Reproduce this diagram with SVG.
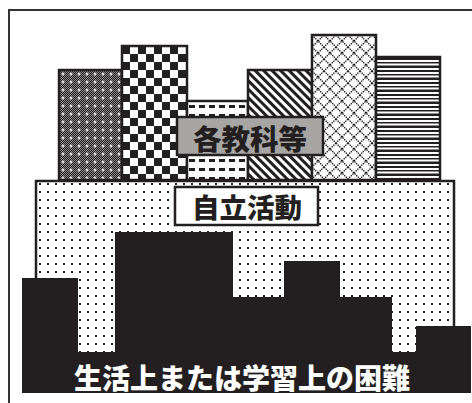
<svg xmlns="http://www.w3.org/2000/svg" width="472" height="403" viewBox="0 0 472 403">
<style>
.bar{stroke:#231f20;stroke-width:2.5}
.lbl{font-family:"Noto Sans CJK JP","Noto Sans",sans-serif;font-weight:900;text-anchor:middle;dominant-baseline:central}
</style>
<defs>
<pattern id="pFine" patternUnits="userSpaceOnUse" x="59" y="70" width="8" height="8">
<rect width="8" height="8" fill="#8a8888"/>
<g fill="#231f20">
<rect x="0" y="0" width="1" height="1"/><rect x="2" y="0" width="1" height="1"/><rect x="4" y="0" width="1" height="1"/><rect x="6" y="0" width="1" height="1"/>
<rect x="1" y="1" width="1" height="1"/><rect x="3" y="1" width="1" height="1"/><rect x="5" y="1" width="1" height="1"/><rect x="7" y="1" width="1" height="1"/>
<rect x="0" y="2" width="1" height="1"/><rect x="2" y="2" width="1" height="1"/><rect x="4" y="2" width="1" height="1"/><rect x="6" y="2" width="1" height="1"/>
<rect x="1" y="3" width="1" height="1"/><rect x="3" y="3" width="1" height="1"/><rect x="5" y="3" width="1" height="1"/><rect x="7" y="3" width="1" height="1"/>
<rect x="0" y="4" width="1" height="1"/><rect x="2" y="4" width="1" height="1"/><rect x="4" y="4" width="1" height="1"/><rect x="6" y="4" width="1" height="1"/>
<rect x="1" y="5" width="1" height="1"/><rect x="3" y="5" width="1" height="1"/><rect x="5" y="5" width="1" height="1"/><rect x="7" y="5" width="1" height="1"/>
<rect x="0" y="6" width="1" height="1"/><rect x="2" y="6" width="1" height="1"/><rect x="4" y="6" width="1" height="1"/><rect x="6" y="6" width="1" height="1"/>
<rect x="1" y="7" width="1" height="1"/><rect x="3" y="7" width="1" height="1"/><rect x="5" y="7" width="1" height="1"/><rect x="7" y="7" width="1" height="1"/>
</g>
<path d="M4,2.5V5.5M2.5,4H5.5" stroke="#fff" stroke-width="1.2"/>
</pattern>
<pattern id="pCheck" patternUnits="userSpaceOnUse" x="122" y="46" width="16" height="16">
<rect width="16" height="16" fill="#fff"/>
<rect x="0" y="0" width="8" height="8" fill="#231f20"/>
<rect x="8" y="8" width="8" height="8" fill="#231f20"/>
</pattern>
<pattern id="pDash" patternUnits="userSpaceOnUse" x="187" y="101" width="10" height="9">
<rect width="10" height="9" fill="#fff"/>
<rect x="2" y="4" width="6" height="3" fill="#231f20"/>
</pattern>
<pattern id="pDiag" patternUnits="userSpaceOnUse" width="6" height="6" patternTransform="rotate(45)">
<rect width="6" height="6" fill="#fff"/>
<rect x="0" y="0" width="6" height="3" fill="#231f20"/>
</pattern>
<pattern id="pLattice" patternUnits="userSpaceOnUse" x="312" y="35" width="12" height="12">
<rect width="12" height="12" fill="#fff"/>
<path d="M0,0L12,12M12,0L0,12" stroke="#231f20" stroke-width="1.3" stroke-dasharray="1.5 0.8"/>
</pattern>
<pattern id="pHoriz" patternUnits="userSpaceOnUse" x="376" y="57" width="8" height="12">
<rect width="8" height="12" fill="#fff"/>
<rect x="0" y="1" width="8" height="2" fill="#231f20"/>
<rect x="0" y="5" width="8" height="1.5" fill="#231f20"/>
<rect x="0" y="8.5" width="8" height="2.5" fill="#231f20"/>
</pattern>
<pattern id="pDots" patternUnits="userSpaceOnUse" x="36" y="180" width="8" height="8">
<rect width="8" height="8" fill="#fff"/>
<rect x="3" y="3" width="2" height="2" fill="#231f20"/>
</pattern>
</defs>
<rect width="472" height="403" fill="#fff"/>
<g id="frame">
<path d="M472,10H9V403" fill="none" stroke="#333" stroke-width="2"/>
</g>
<g id="subjects">
<rect id="bar1" class="bar" x="59" y="70" width="63" height="110" fill="url(#pFine)"/>
<rect id="bar2" class="bar" x="122" y="46" width="65" height="134" fill="url(#pCheck)"/>
<rect id="bar3" class="bar" x="187" y="101" width="61" height="79" fill="url(#pDash)"/>
<rect id="bar4" class="bar" x="248" y="70" width="64" height="110" fill="url(#pDiag)"/>
<rect id="bar5" class="bar" x="312" y="35" width="64" height="145" fill="url(#pLattice)"/>
<rect id="bar6" class="bar" x="376" y="57" width="64" height="123" fill="url(#pHoriz)"/>
</g>
<g id="jiritsu-platform">
<rect class="bar" x="36" y="181" width="418" height="200" fill="url(#pDots)"/>
</g>
<g id="label-kakukyouka">
<rect x="177" y="117" width="146" height="38" fill="#a8a6a5" stroke="#231f20" stroke-width="2.5"/>
<text class="lbl" x="250" y="137" font-size="28.5" fill="#231f20">各教科等</text>
</g>
<g id="label-jiritsu">
<rect x="175" y="187" width="143" height="38" fill="#fff" stroke="#231f20" stroke-width="2.5"/>
<text class="lbl" x="247" y="206" font-size="27.5" fill="#231f20">自立活動</text>
</g>
<g id="difficulty">
<path d="M22,278H78V352H115V232H233V297H284V261H340V297H392V352H416V326H471V393H22Z" fill="#231f20"/>
<text class="lbl" x="242" y="377" font-size="28" fill="#fff">生活上または学習上の困難</text>
</g>
<g id="connectors"/>
</svg>
